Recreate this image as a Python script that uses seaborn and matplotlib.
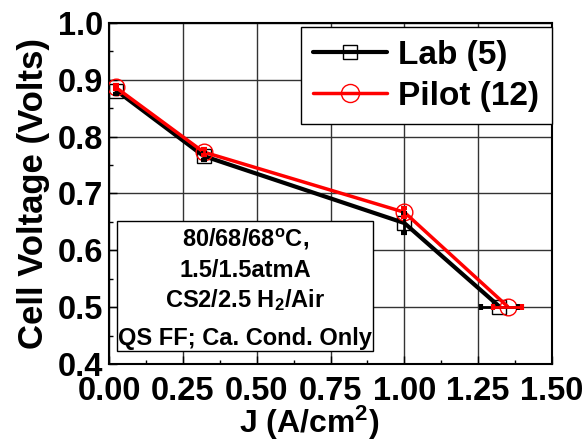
import matplotlib
matplotlib.use('Agg')
import matplotlib.pyplot as plt
import seaborn as sns
import pandas as pd
from matplotlib.lines import Line2D
from matplotlib.patches import Rectangle
from matplotlib.ticker import MultipleLocator, FormatStrFormatter

# data
j_lab = [0.025, 0.32, 1.0, 1.322]
v_lab = [0.881, 0.766, 0.648, 0.501]
verr_lab = [0.006, 0.007, 0.018]   # first three points, volts
jerr_lab = [0.064]                 # last point, A/cm2

j_pilot = [0.022, 0.32, 1.0, 1.35]
v_pilot = [0.887, 0.773, 0.667, 0.501]
verr_pilot = [0.004, 0.005, 0.008]
jerr_pilot = [0.05]

labels = ['Lab (5)', 'Pilot (12)']
colors = ['black', 'red']
markers = ['s', 'o']
msizes = [9.5, 12]
lwidths = [3, 2.5]

note_lines = ['80/68/68$^{o}$C,', '1.5/1.5atmA', 'CS2/2.5 H$_{2}$/Air', 'QS FF; Ca. Cond. Only']

sns.set_style('white')
plt.rcParams['font.family'] = ['Liberation Sans', 'DejaVu Sans']
plt.rcParams['font.weight'] = 'bold'
plt.rcParams['axes.labelweight'] = 'bold'
plt.rcParams['text.color'] = 'black'
plt.rcParams['axes.labelcolor'] = 'black'
plt.rcParams['xtick.color'] = 'black'
plt.rcParams['ytick.color'] = 'black'
plt.rcParams['mathtext.fontset'] = 'custom'
plt.rcParams['mathtext.rm'] = 'Liberation Sans:bold'
plt.rcParams['mathtext.default'] = 'rm'

df = pd.concat([
    pd.DataFrame({'J': j_lab, 'V': v_lab, 'Sample': labels[0]}),
    pd.DataFrame({'J': j_pilot, 'V': v_pilot, 'Sample': labels[1]}),
])

fig, ax = plt.subplots(figsize=(5.88, 4.42), dpi=100)
fig.subplots_adjust(left=0.1854, right=0.9388, top=0.948, bottom=0.1765)

for i, lab in enumerate(labels):
    sub = df[df['Sample'] == lab]
    sns.lineplot(data=sub, x='J', y='V', color=colors[i], marker=markers[i],
                 markersize=msizes[i], mfc='none', mec=colors[i], mew=1,
                 lw=lwidths[i], sort=False, estimator=None, legend=False,
                 ax=ax, zorder=3)

errs = [(j_lab, v_lab, verr_lab, jerr_lab), (j_pilot, v_pilot, verr_pilot, jerr_pilot)]
for i, (jj, vv, ve, je) in enumerate(errs):
    ax.errorbar(jj[:3], vv[:3], yerr=ve, fmt='none', ecolor=colors[i],
                elinewidth=2, capsize=2.5, capthick=3, zorder=3)
    ax.errorbar(jj[3:], vv[3:], xerr=je, fmt='none', ecolor=colors[i],
                elinewidth=2, capsize=2.5, capthick=3, zorder=3)

ax.set_xlim(0, 1.5)
ax.set_ylim(0.4, 1.0)
ax.xaxis.set_major_locator(MultipleLocator(0.25))
ax.xaxis.set_minor_locator(MultipleLocator(0.125))
ax.yaxis.set_major_locator(MultipleLocator(0.1))
ax.yaxis.set_minor_locator(MultipleLocator(0.05))
ax.xaxis.set_major_formatter(FormatStrFormatter('%.2f'))
ax.yaxis.set_major_formatter(FormatStrFormatter('%.1f'))
ax.tick_params(which='both', direction='in', bottom=True, left=True, top=False, right=False)
ax.tick_params(which='major', length=6, width=1, labelsize=23.5)
ax.tick_params(axis='x', which='major', pad=8.5)
ax.tick_params(axis='y', which='major', pad=4)
ax.tick_params(which='minor', length=3, width=1)
ax.grid(True, which='major', color='0.2', lw=1)
for s in ax.spines.values():
    s.set_color('black')
    s.set_linewidth(1.5)

ax.set_xlabel('J (A/cm$^{2}$)', fontsize=23, x=0.451, labelpad=-2)
ax.set_ylabel('Cell Voltage (Volts)', fontsize=25, labelpad=6)

handles = [Line2D([], [], color=colors[i], marker=markers[i], markersize=msizes[i] + 1,
                  mfc='none', mec=colors[i], mew=1, lw=lwidths[i]) for i in range(2)]
leg = ax.legend(handles, labels, loc='upper right', bbox_to_anchor=(1.0, 0.988),
                borderaxespad=0, fancybox=False, framealpha=1, edgecolor='black',
                prop={'size': 24, 'weight': 'bold'}, handlelength=2.2,
                handletextpad=0.35, labelspacing=0.3, borderpad=0.38)
leg.get_frame().set_linewidth(1)

ax.add_patch(Rectangle((0.018, 0.038), 0.578, 0.381, transform=ax.transAxes,
                       fc='white', ec='black', lw=1, zorder=4))
for txt, yy in zip(note_lines, [0.364, 0.273, 0.188, 0.076]):
    ax.text(0.307, yy, txt, transform=ax.transAxes, ha='center', va='center',
            fontsize=17, fontweight='bold', zorder=5)

fig.savefig('out.png', dpi=100)
